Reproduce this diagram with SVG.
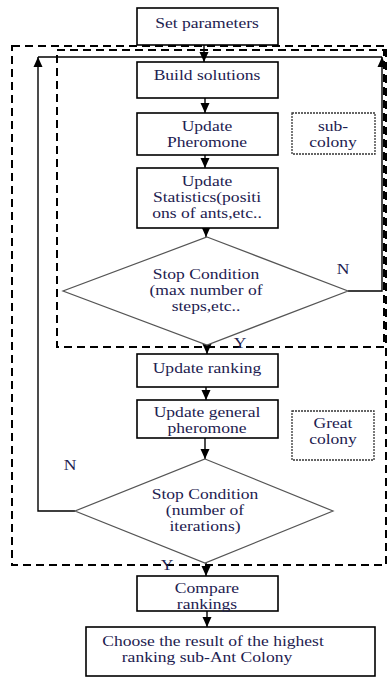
<svg xmlns="http://www.w3.org/2000/svg" width="387" height="678" viewBox="0 0 387 678" font-family="'Liberation Serif', 'DejaVu Serif', serif">
<defs>
<style>
.box{fill:#fff;stroke:#000;stroke-width:1.6}
.dia{fill:#fff;stroke:#555;stroke-width:1.2}
.tag{fill:#fff;stroke:#333;stroke-width:1.3;stroke-dasharray:2 1}
.dash{fill:none;stroke:#000;stroke-width:2;stroke-dasharray:8 5}
.con{fill:none;stroke:#000;stroke-width:1.4}
.t{font-family:'Liberation Serif','DejaVu Serif',serif;font-size:15px;fill:#1d2150;text-anchor:middle}
</style>
<marker id="ah" markerUnits="userSpaceOnUse" markerWidth="10" markerHeight="10" viewBox="0 0 10 10" refX="10" refY="5" orient="auto">
<path d="M0,0.5 L10,5 L0,9.5 Z" fill="#000"/>
</marker>
</defs>

<g id="frames">
<rect class="dash" x="12" y="46" width="374" height="519"/>
<rect class="dash" x="57" y="50" width="327" height="297"/>
</g>

<g id="connectors">
<line class="con" x1="38" y1="57" x2="382" y2="57"/>
<line class="con" x1="204" y1="45" x2="204" y2="62" marker-end="url(#ah)"/>
<line class="con" x1="205" y1="98" x2="205" y2="113" marker-end="url(#ah)"/>
<line class="con" x1="205" y1="155" x2="205" y2="168" marker-end="url(#ah)"/>
<line class="con" x1="206" y1="228" x2="206" y2="237" marker-end="url(#ah)"/>
<line class="con" x1="207" y1="345" x2="207" y2="354" marker-end="url(#ah)"/>
<line class="con" x1="206" y1="387" x2="206" y2="400" marker-end="url(#ah)"/>
<line class="con" x1="205" y1="438" x2="205" y2="459" marker-end="url(#ah)"/>
<line class="con" x1="206" y1="562" x2="206" y2="576" marker-end="url(#ah)"/>
<line class="con" x1="207" y1="611" x2="207" y2="627" marker-end="url(#ah)"/>
<polyline class="con" points="348,291 382,291 382,57" marker-end="url(#ah)"/>
<polyline class="con" points="75,511 38,511 38,57" marker-end="url(#ah)"/>
</g>

<g id="set-parameters">
<rect class="box" x="137" y="8" width="141" height="37"/>
<text class="t" transform="translate(207,28) scale(1.17,1)">Set parameters</text>
</g>

<g id="build-solutions">
<rect class="box" x="137" y="62" width="141" height="36"/>
<text class="t" transform="translate(207,80) scale(1.17,1)">Build solutions</text>
</g>

<g id="update-pheromone">
<rect class="box" x="137" y="113" width="141" height="42"/>
<text class="t" transform="translate(207,131) scale(1.17,1)">Update</text>
<text class="t" transform="translate(207,147) scale(1.17,1)">Pheromone</text>
</g>

<g id="sub-colony">
<rect class="tag" x="292" y="113" width="83" height="41"/>
<text class="t" transform="translate(333,131) scale(1.17,1)">sub-</text>
<text class="t" transform="translate(333,147) scale(1.17,1)">colony</text>
</g>

<g id="update-statistics">
<rect class="box" x="137" y="168" width="141" height="60"/>
<text class="t" transform="translate(207,186) scale(1.17,1)">Update</text>
<text class="t" transform="translate(207,202) scale(1.17,1)">Statistics(positi</text>
<text class="t" transform="translate(207,218) scale(1.17,1)">ons of ants,etc..</text>
</g>

<g id="stop-condition-1">
<polygon class="dia" points="207,237 348,291 207,345 63,291"/>
<text class="t" transform="translate(206,279) scale(1.17,1)">Stop Condition</text>
<text class="t" transform="translate(206,295) scale(1.17,1)">(max number of</text>
<text class="t" transform="translate(206,311) scale(1.17,1)">steps,etc..</text>
</g>

<g id="labels-1">
<text class="t" transform="translate(343,274) scale(1.17,1)">N</text>
<text class="t" transform="translate(240,348) scale(1.17,1)">Y</text>
</g>

<g id="update-ranking">
<rect class="box" x="137" y="354" width="141" height="33"/>
<text class="t" transform="translate(207,373) scale(1.17,1)">Update ranking</text>
</g>

<g id="update-general-pheromone">
<rect class="box" x="137" y="400" width="141" height="38"/>
<text class="t" transform="translate(207,417) scale(1.17,1)">Update general</text>
<text class="t" transform="translate(207,433) scale(1.17,1)">pheromone</text>
</g>

<g id="great-colony">
<rect class="tag" x="292" y="411" width="82" height="49"/>
<text class="t" transform="translate(333,428) scale(1.17,1)">Great</text>
<text class="t" transform="translate(333,444) scale(1.17,1)">colony</text>
</g>

<g id="stop-condition-2">
<polygon class="dia" points="205,459 333,511 205,563 75,511"/>
<text class="t" transform="translate(205,499) scale(1.17,1)">Stop Condition</text>
<text class="t" transform="translate(205,515) scale(1.17,1)">(number of</text>
<text class="t" transform="translate(205,531) scale(1.17,1)">iterations)</text>
</g>

<g id="labels-2">
<text class="t" transform="translate(70,470) scale(1.17,1)">N</text>
<text class="t" transform="translate(167,570) scale(1.17,1)">Y</text>
</g>

<g id="compare-rankings">
<rect class="box" x="137" y="576" width="141" height="35"/>
<text class="t" transform="translate(207,593) scale(1.17,1)">Compare</text>
<text class="t" transform="translate(207,609) scale(1.17,1)">rankings</text>
</g>

<g id="choose-result">
<rect class="box" x="86" y="627" width="289" height="49"/>
<text class="t" transform="translate(213,646) scale(1.17,1)">Choose the result of the highest</text>
<text class="t" transform="translate(207,662) scale(1.17,1)">ranking sub-Ant Colony</text>
</g>
</svg>
